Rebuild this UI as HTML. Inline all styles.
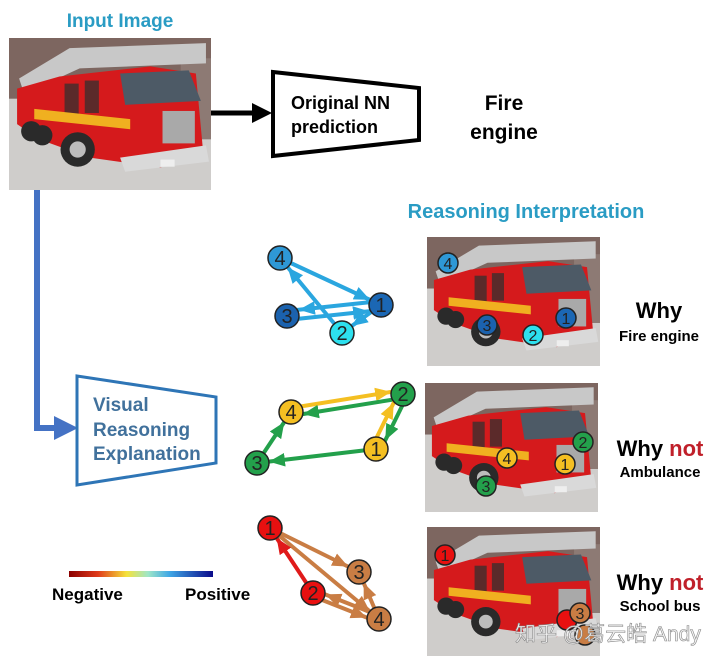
<!DOCTYPE html>
<html><head><meta charset="utf-8"><style>
body{margin:0;background:#fff;width:720px;height:666px;overflow:hidden}
svg{display:block}
</style></head><body>
<svg width="720" height="666" viewBox="0 0 720 666" xmlns="http://www.w3.org/2000/svg" font-family="Liberation Sans, DejaVu Sans, sans-serif">
<defs>
<symbol id="truck" viewBox="0 0 200 150" preserveAspectRatio="none">
<rect width="200" height="150" fill="#c9c6c4"/>
<rect width="200" height="60" fill="#7d6660"/>
<rect x="0" y="60" width="200" height="90" fill="#cfcdcb"/>
<rect x="170" y="20" width="30" height="80" fill="#8d7a74"/>
<polygon points="10,40 60,10 195,5 195,25 70,30 15,55" fill="#c8c8c8"/>
<polygon points="8,50 50,38 140,28 185,35 192,110 150,128 80,118 30,100 8,85" fill="#d51a1c"/>
<polygon points="110,35 178,32 190,62 115,66" fill="#4d5a66"/>
<rect x="55" y="45" width="14" height="30" fill="#5b2a2a"/>
<rect x="75" y="42" width="14" height="32" fill="#5b2a2a"/>
<polygon points="25,70 120,80 120,90 25,80" fill="#f0b020"/>
<rect x="152" y="72" width="32" height="32" fill="#a9a9a9"/>
<polygon points="110,118 195,106 198,122 115,132" fill="#d9d9d9"/>
<circle cx="68" cy="110" r="17" fill="#2a2a2a"/><circle cx="68" cy="110" r="8" fill="#bdbdbd"/>
<circle cx="22" cy="92" r="10" fill="#2a2a2a"/><circle cx="33" cy="96" r="10" fill="#2a2a2a"/>
<rect x="150" y="120" width="14" height="7" fill="#eee"/>
</symbol>
<marker id="mb" markerWidth="4" markerHeight="4" refX="7" refY="2" orient="auto" markerUnits="strokeWidth"><path d="M0,0.3L4,2L0,3.7z" fill="#2aa6df"/></marker>
<marker id="my" markerWidth="4" markerHeight="4" refX="7" refY="2" orient="auto" markerUnits="strokeWidth"><path d="M0,0.3L4,2L0,3.7z" fill="#f4bf22"/></marker>
<marker id="mg" markerWidth="4" markerHeight="4" refX="7" refY="2" orient="auto" markerUnits="strokeWidth"><path d="M0,0.3L4,2L0,3.7z" fill="#23a04b"/></marker>
<marker id="mo" markerWidth="4" markerHeight="4" refX="7" refY="2" orient="auto" markerUnits="strokeWidth"><path d="M0,0.3L4,2L0,3.7z" fill="#c97d44"/></marker>
<marker id="mr" markerWidth="4" markerHeight="4" refX="7" refY="2" orient="auto" markerUnits="strokeWidth"><path d="M0,0.3L4,2L0,3.7z" fill="#e01a1a"/></marker>
<marker id="mk" markerWidth="4" markerHeight="4" refX="2" refY="2" orient="auto" markerUnits="strokeWidth"><path d="M0,0L4,2L0,4z" fill="#000"/></marker>
<marker id="mbl" markerWidth="4" markerHeight="4" refX="2" refY="2" orient="auto" markerUnits="strokeWidth"><path d="M0,0L4,2L0,4z" fill="#4472c4"/></marker>
<linearGradient id="cb" x1="0" x2="1"><stop offset="0" stop-color="#8b0000"/><stop offset=".2" stop-color="#e03a1a"/><stop offset=".4" stop-color="#f5e23a"/><stop offset=".55" stop-color="#9ee6c8"/><stop offset=".7" stop-color="#3ea6e6"/><stop offset="1" stop-color="#0a0a8a"/></linearGradient>
</defs>

<text x="120" y="27" text-anchor="middle" font-size="19" font-weight="bold" fill="#2a9cc4">Input Image</text>
<use href="#truck" x="9" y="38" width="202" height="152"/>

<line x1="211" y1="113" x2="262" y2="113" stroke="#000" stroke-width="5" marker-end="url(#mk)"/>
<polygon points="273,72 419,88 419,140 273,156" fill="#fff" stroke="#000" stroke-width="4"/>
<text x="291" y="109" font-size="18" font-weight="bold">Original NN</text>
<text x="291" y="133" font-size="18" font-weight="bold">prediction</text>
<text x="504" y="110" text-anchor="middle" font-size="21" font-weight="bold">Fire</text>
<text x="504" y="139" text-anchor="middle" font-size="21" font-weight="bold">engine</text>

<text x="526" y="218" text-anchor="middle" font-size="20" font-weight="bold" fill="#2a9cc4">Reasoning Interpretation</text>

<polyline points="37,190 37,428 66,428" fill="none" stroke="#4472c4" stroke-width="6" marker-end="url(#mbl)"/>
<polygon points="77,376 216,397 216,463 77,485" fill="#fff" stroke="#2e75b6" stroke-width="3"/>
<text x="93" y="411" font-size="19" font-weight="bold" fill="#41719c">Visual</text>
<text x="93" y="436" font-size="19" font-weight="bold" fill="#41719c">Reasoning</text>
<text x="93" y="460" font-size="19" font-weight="bold" fill="#41719c">Explanation</text>

<rect x="69" y="571" width="144" height="6" fill="url(#cb)"/>
<text x="52" y="600" font-size="17" font-weight="bold">Negative</text>
<text x="185" y="600" font-size="17" font-weight="bold">Positive</text>

<!-- graph 1 -->
<g stroke="#2aa6df" stroke-width="4" fill="none">
<line x1="280" y1="258" x2="381" y2="305" marker-end="url(#mb)"/>
<line x1="342" y1="333" x2="280" y2="258" marker-end="url(#mb)"/>
<line x1="381" y1="301" x2="287" y2="311" marker-end="url(#mb)"/>
<line x1="287" y1="320" x2="381" y2="310" marker-end="url(#mb)"/>
<line x1="381" y1="305" x2="342" y2="333" marker-end="url(#mb)"/>
</g>
<g stroke="#222" stroke-width="1.5">
<circle cx="280" cy="258" r="12" fill="#2e98d6"/><circle cx="381" cy="305" r="12" fill="#1b67b4"/>
<circle cx="287" cy="316" r="12" fill="#1b62ae"/><circle cx="342" cy="333" r="12" fill="#2de0ee"/>
</g>
<g font-size="20" text-anchor="middle" fill="#222">
<text x="280" y="265">4</text><text x="381" y="312">1</text><text x="287" y="323">3</text><text x="342" y="340">2</text>
</g>

<!-- graph 2 -->
<g stroke-width="4" fill="none">
<line x1="291" y1="408" x2="403" y2="390" stroke="#f4bf22" marker-end="url(#my)"/>
<line x1="403" y1="398" x2="291" y2="416" stroke="#23a04b" marker-end="url(#mg)"/>
<line x1="372" y1="447" x2="399" y2="392" stroke="#f4bf22" marker-end="url(#my)"/>
<line x1="407" y1="396" x2="380" y2="451" stroke="#23a04b" marker-end="url(#mg)"/>
<line x1="376" y1="449" x2="257" y2="463" stroke="#23a04b" marker-end="url(#mg)"/>
<line x1="257" y1="463" x2="291" y2="412" stroke="#23a04b" marker-end="url(#mg)"/>
</g>
<g stroke="#222" stroke-width="1.5">
<circle cx="403" cy="394" r="12" fill="#23a04b"/><circle cx="291" cy="412" r="12" fill="#f4bf22"/>
<circle cx="376" cy="449" r="12" fill="#f4bf22"/><circle cx="257" cy="463" r="12" fill="#23a04b"/>
</g>
<g font-size="20" text-anchor="middle" fill="#222">
<text x="403" y="401">2</text><text x="291" y="419">4</text><text x="376" y="456">1</text><text x="257" y="470">3</text>
</g>

<!-- graph 3 -->
<g stroke-width="4" fill="none">
<line x1="270" y1="528" x2="359" y2="572" stroke="#c97d44" marker-end="url(#mo)"/>
<line x1="270" y1="528" x2="379" y2="619" stroke="#c97d44" marker-end="url(#mo)"/>
<line x1="379" y1="619" x2="359" y2="572" stroke="#c97d44" marker-end="url(#mo)"/>
<line x1="380" y1="616" x2="314" y2="590" stroke="#c97d44" marker-end="url(#mo)"/>
<line x1="312" y1="596" x2="378" y2="622" stroke="#c97d44" marker-end="url(#mo)"/>
<line x1="313" y1="593" x2="270" y2="528" stroke="#e01a1a" marker-end="url(#mr)"/>
</g>
<g stroke="#222" stroke-width="1.5">
<circle cx="270" cy="528" r="12" fill="#e81010"/><circle cx="359" cy="572" r="12" fill="#c97d44"/>
<circle cx="313" cy="593" r="12" fill="#e81010"/><circle cx="379" cy="619" r="12" fill="#c97d44"/>
</g>
<g font-size="20" text-anchor="middle" fill="#222">
<text x="270" y="535">1</text><text x="359" y="579">3</text><text x="313" y="600">2</text><text x="379" y="626">4</text>
</g>

<!-- small photos -->
<use href="#truck" x="427" y="237" width="173" height="129"/>
<use href="#truck" x="425" y="383" width="173" height="129"/>
<use href="#truck" x="427" y="527" width="173" height="129"/>
<g stroke="#222" stroke-width="1.5">
<circle cx="448" cy="263" r="10" fill="#2e98d6"/><circle cx="566" cy="318" r="10" fill="#1b67b4"/>
<circle cx="487" cy="325" r="10" fill="#1b62ae"/><circle cx="533" cy="335" r="10" fill="#2de0ee"/>
<circle cx="583" cy="442" r="10" fill="#23a04b"/><circle cx="507" cy="458" r="10" fill="#f4bf22"/>
<circle cx="565" cy="464" r="10" fill="#f4bf22"/><circle cx="486" cy="486" r="10" fill="#23a04b"/>
<circle cx="445" cy="555" r="10" fill="#e81010"/><circle cx="567" cy="620" r="10" fill="#e81010"/>
<circle cx="580" cy="613" r="10" fill="#c97d44"/><circle cx="585" cy="635" r="10" fill="#c97d44"/>
</g>
<g font-size="16" text-anchor="middle" fill="#222">
<text x="448" y="269">4</text><text x="566" y="324">1</text><text x="487" y="331">3</text><text x="533" y="341">2</text>
<text x="583" y="448">2</text><text x="507" y="464">4</text><text x="565" y="470">1</text><text x="486" y="492">3</text>
<text x="445" y="561">1</text><text x="580" y="619">3</text>
</g>

<text x="659" y="318" text-anchor="middle" font-size="22" font-weight="bold">Why</text>
<text x="659" y="341" text-anchor="middle" font-size="15" font-weight="bold">Fire engine</text>
<text x="660" y="456" text-anchor="middle" font-size="22" font-weight="bold">Why <tspan fill="#c0202a">not</tspan></text>
<text x="660" y="477" text-anchor="middle" font-size="15" font-weight="bold">Ambulance</text>
<text x="660" y="590" text-anchor="middle" font-size="22" font-weight="bold">Why <tspan fill="#c0202a">not</tspan></text>
<text x="660" y="611" text-anchor="middle" font-size="15" font-weight="bold">School bus</text>

<text x="515" y="641" font-size="21" fill="#f4f4f4" stroke="#888" stroke-width="0.6" font-family="Liberation Sans, Noto Sans CJK SC, sans-serif">知乎 @葛云皓 Andy</text>
</svg>
</body></html>
